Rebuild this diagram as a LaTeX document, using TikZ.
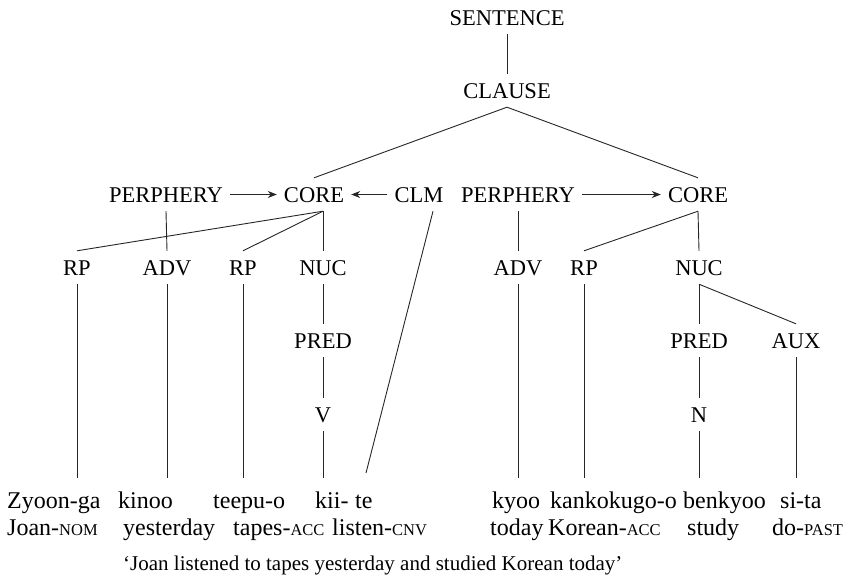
\documentclass[tikz,border=0pt]{standalone}
\usepackage{fontspec}
\setmainfont{Liberation Serif}
\usetikzlibrary{arrows.meta}
\newcommand\gsc[1]{{\fontsize{16.5pt}{16.5pt}\selectfont\MakeUppercase{#1}}}
\begin{document}
\begin{tikzpicture}[x=1pt,y=-1pt,
  every node/.style={font=\fontsize{22.5pt}{26pt}\selectfont},
  lab/.style={anchor=base,text height=15pt,text depth=0pt,inner ysep=9pt,inner xsep=7pt},
  word/.style={anchor=base west,text height=15pt,text depth=5pt,inner ysep=15pt,inner xsep=0pt,font=\fontsize{24pt}{28pt}\selectfont},
  gloss/.style={anchor=base west,inner sep=0pt,font=\fontsize{24pt}{28pt}\selectfont},
  transl/.style={anchor=base west,inner sep=0pt,font=\fontsize{21pt}{24pt}\selectfont},
  edge/.style={line width=0.9pt,draw=black!85},
  arr/.style={edge,-{Stealth[length=9pt,width=7pt]}}]
\useasboundingbox (0,0) rectangle (862,581);
% labels
\node[lab] (sent) at (507,25) {SENTENCE};
\node[lab] (clause) at (507,98) {CLAUSE};
\node[lab] (perA) at (166,202) {PERPHERY};
\node[lab] (coreA) at (314,202) {CORE};
\node[lab] (clm) at (419,202) {CLM};
\node[lab] (perB) at (518,202) {PERPHERY};
\node[lab] (coreB) at (698,202) {CORE};
\node[lab] (rpA) at (77,275) {RP};
\node[lab] (advA) at (167,275) {ADV};
\node[lab] (rpB) at (243,275) {RP};
\node[lab] (nucA) at (323,275) {NUC};
\node[lab] (advB) at (518,275) {ADV};
\node[lab] (rpC) at (584,275) {RP};
\node[lab] (nucB) at (699,275) {NUC};
\node[lab] (predA) at (323,348) {PRED};
\node[lab] (predB) at (699,348) {PRED};
\node[lab] (aux) at (796,348) {AUX};
\node[lab] (v) at (323,422) {V};
\node[lab] (n) at (699,422) {N};
% words
\node[word] (w1) at (7,508) {Zyoon-ga};
\node[word] (w2) at (118,508) {kinoo};
\node[word] (w3) at (213,508) {teepu-o};
\node[word] (w4) at (315,508) {kii-};
\node[word] (w4b) at (355,508) {te};
\node[word] (w5) at (492,508) {kyoo};
\node[word] (w6) at (550,508) {kankokugo-o};
\node[word] (w7) at (683,508) {benkyoo};
\node[word] (w8) at (780,508) {si-ta};
% glosses
\node[gloss] (g1) at (7,535) {Joan-\gsc{nom}};
\node[gloss] (g2) at (123,535) {yesterday};
\node[gloss] (g3) at (233,535) {tapes-\gsc{acc}};
\node[gloss] (g4) at (332,535) {listen-\gsc{cnv}};
\node[gloss] (g5) at (490,535) {today};
\node[gloss] (g6) at (548,535) {Korean-\gsc{acc}};
\node[gloss] (g7) at (687,535) {study};
\node[gloss] (g8) at (772,535) {do-\gsc{past}};
\node[transl] (tr) at (123,570) {‘Joan listened to tapes yesterday and studied Korean today’};
% tree edges
\draw[edge] (sent.south) -- (clause.north);
\draw[edge] (clause.south) -- (coreA.north);
\draw[edge] (clause.south) -- (coreB.north);
\coordinate (cA) at ([xshift=9pt]coreA.south);
\draw[edge] (cA) -- (rpA.north);
\draw[edge] (cA) -- (rpB.north);
\draw[edge] (cA) -- (cA |- nucA.north);
\draw[edge] (perA.south) -- (advA.north);
\draw[edge] (perB.south) -- (advB.north);
\draw[edge] (coreB.south) -- (rpC.north);
\draw[edge] (coreB.south) -- (nucB.north);
\draw[edge] (nucA.south) -- (predA.north);
\draw[edge] (predA.south) -- (v.north);
\draw[edge] (nucB.south) -- (predB.north);
\draw[edge] (nucB.south) -- (aux.north);
\draw[edge] (predB.south) -- (n.north);
% to words
\draw[edge] (rpA.south) -- (rpA.south |- w1.north);
\draw[edge] (advA.south) -- (advA.south |- w2.north);
\draw[edge] (rpB.south) -- (rpB.south |- w3.north);
\draw[edge] (v.south) -- (v.south |- w4.north);
\coordinate (clmT) at ([xshift=14pt]clm.south);
\coordinate (teT) at (366,473);
\draw[edge] (clmT) -- (teT);
\draw[edge] (advB.south) -- (advB.south |- w5.north);
\draw[edge] (rpC.south) -- (rpC.south |- w6.north);
\draw[edge] (n.south) -- (n.south |- w7.north);
\draw[edge] (aux.south) -- (aux.south |- w8.north);
% arrows
\draw[arr] (perA.east) -- (coreA.west);
\draw[arr] (clm.west) -- (coreA.east);
\draw[arr] (perB.east) -- (coreB.west);
\end{tikzpicture}
\end{document}
